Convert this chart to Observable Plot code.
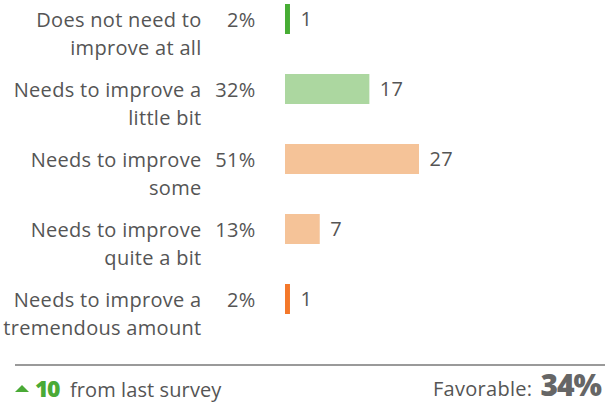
<!DOCTYPE html>
<html>
<head>
<meta charset="utf-8">
<script src="https://cdn.jsdelivr.net/npm/d3@7"></script>
<script src="https://cdn.jsdelivr.net/npm/@observablehq/plot@0.6"></script>
<style>
  html, body { margin: 0; padding: 0; background: #fff; }
  body { width: 606px; height: 404px; overflow: hidden; font-family: "Open Sans", Lato, sans-serif; color: #555; }
  #wrap { position: relative; width: 606px; height: 404px; }
  #chart { position: absolute; left: 0; top: 0; }
  #sep { position: absolute; left: 15px; top: 364px; width: 590px; height: 2px; background: #9a9a9a; }
  #left { position: absolute; left: 15px; top: 377px; display: flex; align-items: baseline; white-space: nowrap; line-height: 1; }
  #right { position: absolute; right: 5px; top: 370px; display: flex; align-items: baseline; white-space: nowrap; line-height: 1; }
  .tri { display: inline-block; width: 0; height: 0; border-left: 7px solid transparent; border-right: 7px solid transparent; border-bottom: 7px solid #4aaa36; margin-right: 6px; position: relative; top: -5px; }
  .delta { color: #4aaa36; font-weight: 800; font-size: 23px; margin-right: 11px; letter-spacing: -1.5px; }
  .from { font-size: 20px; color: #555; letter-spacing: 0.1px; }
  .fav { font-size: 20px; color: #555; margin-right: 8px; letter-spacing: 0.3px; }
  .score { font-size: 30px; font-weight: 800; color: #666; letter-spacing: -1px; }
</style>
</head>
<body>
<div id="wrap">
  <div id="chart"></div>
  <div id="sep"></div>
  <div id="left"><span class="tri"></span><span class="delta" id="delta"></span><span class="from" id="fromtxt"></span></div>
  <div id="right"><span class="fav" id="favlabel"></span><span class="score" id="score"></span></div>
</div>
<script>
const categories = [
  "Does not need to\nimprove at all",
  "Needs to improve a\nlittle bit",
  "Needs to improve\nsome",
  "Needs to improve\nquite a bit",
  "Needs to improve a\ntremendous amount"
];
const counts = [1, 17, 27, 7, 1];
const percentLabels = ["2%", "32%", "51%", "13%", "2%"];
const barColors = ["#47ad34", "#acd7a0", "#f5c398", "#f5c398", "#f4782a"];
const deltaValue = 10;
const deltaText = "from last survey";
const favorableLabel = "Favorable:";
const favorableValue = "34%";

const data = categories.map((c, i) => ({cat: c, count: counts[i], pct: percentLabels[i]}));

const chart = Plot.plot({
  width: 606,
  height: 356,
  margin: 0,
  style: {fontFamily: "'Open Sans', Lato, sans-serif", color: "#555", letterSpacing: "0.3px"},
  x: {domain: [0, 27], range: [285, 419], axis: null},
  y: {domain: categories, range: [0, 318], paddingInner: 4/7, paddingOuter: 4/70, axis: null},
  color: {domain: categories, range: barColors},
  marks: [
    Plot.barX(data, {x: "count", y: "cat", fill: "cat"}),
    Plot.text(data, {y: "cat", text: "cat", frameAnchor: "left", dx: 201, textAnchor: "end", lineAnchor: "top", dy: -12, lineHeight: 1.38, fontSize: 20, fill: "#555"}),
    Plot.text(data, {y: "cat", text: "pct", frameAnchor: "left", dx: 255, textAnchor: "end", lineAnchor: "top", dy: -6.5, fontSize: 20, fill: "#555"}),
    Plot.text(data, {x: "count", y: "cat", text: d => String(d.count), dx: 10, textAnchor: "start", fontSize: 20, fill: "#555"})
  ]
});
document.getElementById("chart").appendChild(chart);
document.getElementById("delta").textContent = deltaValue;
document.getElementById("fromtxt").textContent = deltaText;
document.getElementById("favlabel").textContent = favorableLabel;
document.getElementById("score").textContent = favorableValue;
</script>
</body>
</html>
